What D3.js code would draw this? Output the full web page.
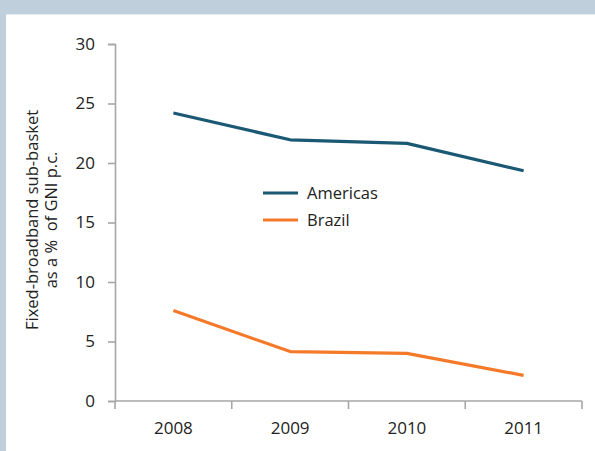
<!DOCTYPE html>
<html>
<head>
<meta charset="utf-8">
<script src="https://cdn.jsdelivr.net/npm/d3@7"></script>
<style>
  body { margin: 0; background: #fff; }
  svg { display: block; }
</style>
</head>
<body>
<figure id="chart" style="margin:0"></figure>
<script>
// data
const years = ["2008", "2009", "2010", "2011"];
const americas = [24.2, 21.95, 21.65, 19.35];
const brazil = [7.6, 4.15, 4.0, 2.15];
const yTicks = [0, 5, 10, 15, 20, 25, 30];

const series = [
  { name: "Americas", values: americas, color: "#1b5874" },
  { name: "Brazil", values: brazil, color: "#f47a2a" }
];

const W = 595, H = 451;
const plotLeft = 115, plotRight = 582, plotTop = 44, plotBottom = 401;
const font = "Open Sans, sans-serif";

const svg = d3.select("figure#chart")
  .append("svg")
  .attr("width", W)
  .attr("height", H);

// frame
svg.append("rect").attr("x", 0).attr("y", 0).attr("width", W).attr("height", 14).attr("fill", "#bfcfdb");
svg.append("rect").attr("x", 0).attr("y", 14).attr("width", W).attr("height", 1).attr("fill", "#e4ebf0");
svg.append("rect").attr("x", 0).attr("y", 0).attr("width", 6).attr("height", H).attr("fill", "#bfcfdb");

const x = d3.scaleBand().domain(years).range([plotLeft, plotRight]);
const y = d3.scaleLinear().domain([0, 30]).range([plotBottom, plotTop]);

// y axis
const yAxis = svg.append("g")
  .attr("transform", "translate(" + plotLeft + ",0)")
  .call(d3.axisLeft(y).tickValues(yTicks).tickSize(7).tickPadding(13));

// x axis
const xAxis = svg.append("g")
  .attr("transform", "translate(0," + plotBottom + ")")
  .call(d3.axisBottom(x).tickSize(0).tickPadding(21));

// x ticks sit on band edges
xAxis.selectAll(".edge")
  .data(years.map(d => x(d)).concat([plotRight]))
  .join("line")
  .attr("x1", d => d).attr("x2", d => d)
  .attr("y1", 0).attr("y2", 8)
  .attr("stroke", "#a6a6a6")
  .attr("stroke-width", 1.6);

[yAxis, xAxis].forEach(g => {
  g.select(".domain").attr("stroke", "#a6a6a6").attr("stroke-width", 1.6);
  g.selectAll(".tick line").attr("stroke", "#a6a6a6").attr("stroke-width", 1.6);
  g.selectAll(".tick text").attr("fill", "#222").style("font", "17px " + font);
});
xAxis.select(".domain").attr("d", "M" + plotLeft + ",0H" + plotRight);

// axis title
const title = svg.append("text")
  .attr("transform", "translate(38," + 220 + ") rotate(-90)")
  .attr("text-anchor", "middle")
  .attr("fill", "#222")
  .style("font", "16.5px " + font);
title.append("tspan").attr("x", 0).attr("dy", 0).text("Fixed-broadband sub-basket");
title.append("tspan").attr("x", 0).attr("dy", 19).attr("xml:space", "preserve").text("as a %  of GNI p.c.");

// lines
const line = d3.line()
  .x((d, i) => x(years[i]) + x.bandwidth() / 2)
  .y(d => y(d));

svg.append("g")
  .selectAll("path")
  .data(series)
  .join("path")
  .attr("fill", "none")
  .attr("stroke", d => d.color)
  .attr("stroke-width", 3.2)
  .attr("stroke-linejoin", "round")
  .attr("d", d => line(d.values));

// legend
const legend = svg.append("g")
  .attr("transform", "translate(263,193)")
  .selectAll("g")
  .data(series)
  .join("g")
  .attr("transform", (d, i) => "translate(0," + i * 27 + ")");

legend.append("line")
  .attr("x1", 0).attr("x2", 35)
  .attr("stroke", d => d.color)
  .attr("stroke-width", 3.2);

legend.append("text")
  .attr("x", 44)
  .attr("dy", "0.35em")
  .attr("fill", "#222")
  .style("font", "16.5px " + font)
  .text(d => d.name);
</script>
</body>
</html>
